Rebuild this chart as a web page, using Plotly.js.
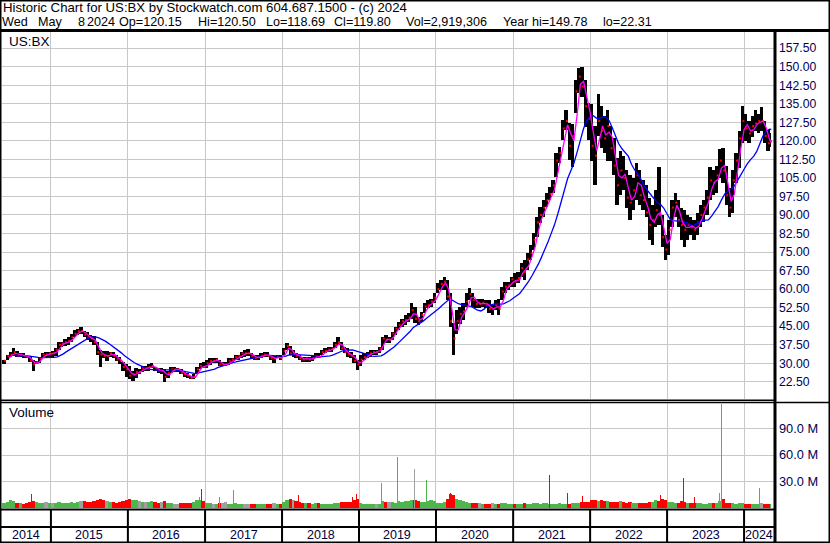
<!DOCTYPE html>
<html><head><meta charset="utf-8">
<script src="https://cdn.plot.ly/plotly-3.0.1.min.js"></script>
<style>html,body{margin:0;padding:0;background:#fff;overflow:hidden}#chart{width:830px;height:543px}</style>
</head><body><div id="chart"></div>
<script>
// ---------- DATA (half-month periods) ----------
const firstPeriod = '2014-05-16';
const lastDay = '2024-05-09';
const highs = [
 31.5,33.5,34.5,36,35,34,34,33.5,33,31.5,31,32.5,34,34.5,34.5,
 35,36,38.5,38.5,40,40.5,42,43.5,44,44.8,43,42.5,41.5,41,38.5,35.5,35,35,34.5,34.5,33.5,32.5,30.5,29.5,
 29,27,28,27.5,29,29,29.5,30.2,28.5,28,28,27.5,27,28.5,28.5,28,27.5,26.5,26,25,25.5,28.5,30,30.5,
 31.3,32,32,32,31.5,30.5,30.5,32,32,33.4,33.4,34.7,35.4,35.6,34,33.4,33.4,34,34.7,34.7,33.4,33,33.4,33.4,
 36,38,37,35.4,34,33.4,32.7,32.7,32.7,33,34,34,35.4,36,36.7,36.7,38.7,40.8,38.7,36.7,36,34.7,33.4,31.3,
 33.4,34,34.7,35.4,35.4,35.4,36.7,40.8,41.4,40.8,42.8,44.8,46.8,48,49.5,50.2,54.5,52.8,48.8,50.9,54.2,55.5,56.2,58.3,
 62.3,63.7,65,63.7,58.3,46.1,51.5,52.9,54.2,58.3,60.3,58.3,56.2,56.2,56.2,55.6,55.6,53.5,55.6,56.2,61,63,63,65,
 66.4,67,70.4,71.8,74.5,77.8,82.6,89.3,93.3,96,98.7,101.4,104,114.9,117.6,128.4,132.5,127.1,127,144.6,149.3,149.78,144.6,135.2,
 135,126,139,134,130,132.5,126,121,113,116,114,108,106,105,111,108,104,102,97,94,100,109.5,90,82,
 88,96,99,96,93,92,90,89,88,91,94,96,100,109.5,108,110,116.5,117,110,101,108,115,124,134,
 131,128,130,132.5,131,133.5,128,124.5,123
];
const lows = [
 29.5,31.5,32.5,33,32.5,32.5,32,32,30.5,27,29.5,30,32,32.5,32,
 32.5,33,35.5,36.5,37,37.5,38.5,40.5,41.5,42,40.5,39.5,38.5,37.5,33.5,28.6,32,31,32.5,32,31,29.5,27,24.5,
 23.5,23,24,25.5,26.5,27,27,28,27,26,25.5,22.31,24,26,26.5,26.5,25.5,24.5,24,23.5,23.5,26,27.5,28,
 28,29.3,30,30,28.7,28.7,28.7,29.3,30,31.3,31.3,32,32.7,33,32,31.3,31.3,32,32.7,32.7,31.3,30,32,31.3,
 33.4,35.4,33.4,32.7,32,31.3,30.7,30.7,30.7,31,32,32,33.4,34,34.7,34.7,36,37.4,35.4,34,32.7,32,30,27.3,
 28.7,31.3,32,32.7,33.4,33.4,34,35.4,38,38,39.4,41.4,43.4,44.8,45.5,46.8,48,46.1,45.5,46.8,50.2,52.2,52.9,54.2,
 58.3,59.6,59.6,55.6,44.8,33.3,42,46,47.5,52.9,55.6,52.9,52.2,52.2,52.9,52.2,50.2,49.5,51.5,49.5,55.6,58.3,59.6,61,
 61,62.3,65,63.7,67.7,71.8,75.8,81.2,86.6,89.3,93.3,96,98.7,105.5,110.9,120.3,124.4,112.2,109.5,131.1,139.2,137.9,125.7,120.3,
 112,102,122,117,115,112,112,106,94,98,100,93,88,92,96,94,92,89,80,78,85,86,77,71.8,
 74,85,89,85,80,77,80,82,80,82,85,87,90,96,98,99,105,103,94,89,91,103,109,119,
 120,119,121.5,124,123,124,119,116,117.5
];
const closes = [
 31,33,33.5,34.5,33,33.5,33,32.5,31,29.5,30.5,32,33.5,33.5,34,
 34,35.5,37.5,38,38.5,39,40.5,42,43,43,41.5,40.5,40,38.5,34.5,33.5,33,33,34,33,31.5,31,28.5,27.5,
 25,25.5,26.5,26.5,28,28,28.5,29,27.5,27,27,24.5,26,27.5,27.5,27.5,26,25.5,25,24,24.5,27.5,29,28.5,
 30,31,31,31.5,29.5,29.5,29.5,31,31.5,32.5,33,34,34,34,33,32,32.5,33,33.5,33,32,32,32.5,32,
 35,37,34,34,33,32,31.5,32,31.5,32,33,32.5,34.5,35,35.5,36,37.5,38.5,36,34.5,33.5,33,31,29.5,
 31.5,32.5,33.5,34,34.5,34.5,36,40,39.5,39.5,42,44,45.5,47,47.5,48.5,51.5,48,47,49.5,53,53.5,55,56.5,
 60,62,63,57,47,40,47,50,51,55,58,55.5,54,54,54.5,53.5,52,52,53.5,52,59,61,61.5,64,
 63,64.5,68.5,67,72,74.5,80,87,90,93,96,98.5,102,112,115,125,128,118,122,140,146,142,134,129,
 118,114,128,124,121,126,117,110,102,108,105,97,95,100,106,98,96,91,86,88,92,90,81,76,
 84,93,95,88,86,84,86,85,84,87,90,93,97,104,103,106,112,108,98,93,104,112,121,128,
 125,123,126,127,128,128,122,119,119.8
];
// typical daily volume level per half-month (millions)
const volumes = [
 6,7,9,8,6,6,5,6,7,8,7,6,6,7,6,
 6,6,7,6,6,6,7,6,7,8,8,7,7,8,9,10,9,8,7,7,6,7,8,9,
 10,9,9,8,7,7,7,8,7,6,7,8,6,6,5,5,6,6,6,6,7,9,9,8,
 6,6,5,5,6,6,7,5,5,6,5,5,5,5,5,4,5,5,5,5,5,6,5,5,
 7,9,10,9,8,7,6,6,6,5,6,6,5,5,5,5,6,6,7,7,7,7,9,10,
 6,5,5,4,4,4,4,8,7,7,7,6,8,7,8,8,9,9,8,7,7,8,9,8,
 6,6,7,10,16,15,10,9,8,7,6,6,6,6,5,5,5,6,5,5,6,6,5,5,
 5,5,5,6,5,5,6,6,5,6,6,5,5,5,6,5,5,5,6,6,6,7,7,7,
 9,9,8,9,8,8,7,7,7,8,7,6,7,6,6,6,6,6,7,7,9,8,10,9,
 7,7,6,6,8,7,6,6,6,6,6,5,5,6,6,6,8,10,6,6,6,5,6,6,
 5,5,5,5,5,6,5,5,5
];
// single-day volume spikes (millions)
const spikeDates = ['2014-10-01','2016-12-07','2016-12-16','2017-03-10','2017-05-16','2018-03-22','2018-12-03','2018-12-18','2019-04-18','2019-07-01','2019-09-20','2019-11-15','2020-03-12','2021-06-21','2021-09-17','2021-11-24','2022-12-02','2023-03-20','2023-05-10','2023-09-06','2023-09-15','2024-03-15'];
const spikeVols  = [15.7,12.9,21.8,12.9,20.6,14.9,12.9,16,28.6,57.3,44.7,31.3,17,37.8,16.8,13.7,14.9,34.4,12.9,16.8,118,22.6];
const spikeDir   = ['down','up','down','up','up','down','down','down','up','up','flat','up','down','down','down','down','down','down','down','up','up','up'];
const priceTicks = [22.5,30,37.5,45,52.5,60,67.5,75,82.5,90,97.5,105,112.5,120,127.5,135,142.5,150,157.5];
const priceTickText = ['22.50','30.00','37.50','45.00','52.50','60.00','67.50','75.00','82.50','90.00','97.50','105.00','112.50','120.00','127.50','135.00','142.50','150.00','157.50'];
const volTicks = [30e6,60e6,90e6];
const volTickText = ['30.0 M','60.0 M','90.0 M'];
const years = [2014,2015,2016,2017,2018,2019,2020,2021,2022,2023,2024];
const headerLine1 = 'Historic Chart for US:BX by Stockwatch.com 604.687.1500 - (c) 2024';
const headerLine2 = ['Wed','May','8','2024','Op=120.15','Hi=120.50','Lo=118.69','Cl=119.80','Vol=2,919,306','Year hi=149.78','lo=22.31'];

// ---------- build ----------
const W=830,H=543;
const px=x=>x/W, py=y=>1-y/H;
const DAY=86400000;
const X_RANGE=['2014-05-14','2024-05-22'];
const ms=s=>Date.parse(s+'T00:00:00Z');
const iso=t=>new Date(t).toISOString().slice(0,19).replace('T',' ');

const starts=[firstPeriod];
for(let y=2014;y<=2024;y++){for(let m=1;m<=12;m++){
  if(y===2014&&m<6)continue; if(y===2024&&m>5)break;
  const mm=String(m).padStart(2,'0');
  starts.push(`${y}-${mm}-01`);
  if(!(y===2024&&m===5)) starts.push(`${y}-${mm}-16`);
}}
const startMs=starts.map(ms);
const endMs=startMs.map((t,i)=>i<startMs.length-1?startMs[i+1]:ms(lastDay));
const widths=startMs.map((t,i)=>endMs[i]-t+0.4*DAY);

function sma(arr,n,minStart){return arr.map((v,i)=>{if(i<minStart)return null;const a=arr.slice(Math.max(0,i-n+1),i+1);return a.reduce((s,x)=>s+x,0)/a.length;});}
const ma20=sma(closes,2,1), ma100=sma(closes,10,3);
const endIso=endMs.map(iso);

const up='#4cb84c', dn='#ff0000', flat='#a0a0a0';
const volColors=closes.map((c,i)=>i===0?up:(c>closes[i-1]?up:(c<closes[i-1]?dn:flat)));
const spikeColors=spikeDir.map(d=>d==='up'?up:(d==='down'?dn:flat));

const traces=[
 {type:'bar',x:starts,base:lows,y:highs.map((h,i)=>h-lows[i]),width:widths,offset:0,
  marker:{color:'#000',line:{width:0}},xaxis:'x',yaxis:'y',hoverinfo:'skip'},
 {type:'scatter',mode:'markers',x:startMs.map((t,i)=>iso(t+(endMs[i]-t)*0.8)),y:closes,
  marker:{symbol:'square',size:2,color:'#ff0000'},xaxis:'x',yaxis:'y',hoverinfo:'skip'},
 {type:'scatter',mode:'lines',x:endIso,y:ma100,line:{color:'#0000ff',width:1.3},xaxis:'x',yaxis:'y',hoverinfo:'skip'},
 {type:'scatter',mode:'lines',x:endIso,y:ma20,line:{color:'#ff00ff',width:1.3},xaxis:'x',yaxis:'y',hoverinfo:'skip'},
 {type:'bar',x:starts,y:volumes.map(v=>v*1e6),width:widths,offset:0,
  marker:{color:volColors,line:{width:0}},xaxis:'x',yaxis:'y2',hoverinfo:'skip'},
 {type:'bar',x:spikeDates,y:spikeVols.map(v=>v*1e6),width:spikeDates.map(()=>5*DAY),offset:-2.5*DAY,
  marker:{color:spikeColors,line:{width:0}},xaxis:'x',yaxis:'y2',hoverinfo:'skip'}
];

const FONT='Liberation Sans, Arial, sans-serif';
const NAVY='#00005a';
const ann=[];
function txt(t,x,y,size,color,anchor){ann.push({text:t,xref:'paper',yref:'paper',x:px(x),y:py(y),xanchor:anchor||'left',yanchor:'middle',showarrow:false,borderpad:0,font:{family:FONT,size:size,color:color||'#000'}});}
txt(headerLine1,2,8,13.2);
const line2X=[1,37,77,86,118,197,265,333,405,502,602];
headerLine2.forEach((t,i)=>txt(t,line2X[i],22,12.6));
txt('US:BX',8,41,13.5,'#000020');
txt('Volume',8,413,13.5,'#000020');

const rs=ms(X_RANGE[0]), re=ms(X_RANGE[1]);
years.forEach(y=>{
  const a=Math.max(rs,ms(`${y}-01-01`)), b=Math.min(re,ms(`${y+1}-01-01`));
  ann.push({text:String(y),xref:'x',yref:'paper',x:iso((a+b)/2),y:py(535),xanchor:'center',yanchor:'middle',showarrow:false,borderpad:0,font:{family:FONT,size:12.5,color:'#00003a'}});
});

const yearStarts=years.slice(1).map(y=>`${y}-01-01`);
const shapes=[];
function ln(x0,y0,x1,y1,w){shapes.push({type:'line',xref:'paper',yref:'paper',x0:px(x0),y0:py(y0),x1:px(x1),y1:py(y1),line:{color:'#000',width:w}});}
ln(0,30.5,830,30.5,3);
ln(775,30,775,543,3);
ln(0,400.3,775,400.3,1.5);
ln(0,402.6,830,402.6,1.5);
ln(0,509.5,775,509.5,2);
ln(0,527,775,527,2);
yearStarts.forEach(d=>shapes.push({type:'line',xref:'x',yref:'paper',x0:d,x1:d,y0:py(509),y1:py(542),line:{color:'#000',width:2}}));
shapes.push({type:'rect',xref:'paper',yref:'paper',x0:0,y0:0,x1:1,y1:1,line:{color:'#000',width:3}});

const layout={
 width:W,height:H,margin:{l:0,r:0,t:0,b:0,pad:0},
 paper_bgcolor:'#fff',plot_bgcolor:'#fff',showlegend:false,
 barmode:'overlay',bargap:0,
 xaxis:{type:'date',range:X_RANGE,domain:[px(2),px(774)],anchor:'y2',tickvals:yearStarts,showticklabels:false,
   ticks:'',showgrid:true,gridcolor:'#c8c8c8',gridwidth:1,zeroline:false,showline:false,fixedrange:true},
 yaxis:{domain:[py(399),py(32)],range:[15.53,164.04],side:'right',anchor:'x',tickvals:priceTicks,ticktext:priceTickText,
   ticks:'',showgrid:true,gridcolor:'#c8c8c8',gridwidth:1,zeroline:false,showline:false,ticklabelstandoff:4,
   tickfont:{family:FONT,size:12.2,color:NAVY},fixedrange:true},
 yaxis2:{domain:[py(508),py(403)],range:[0,118.9e6],side:'right',anchor:'x',tickvals:volTicks,ticktext:volTickText,
   ticks:'',showgrid:true,gridcolor:'#c8c8c8',gridwidth:1,zeroline:false,showline:false,ticklabelstandoff:4,
   tickfont:{family:FONT,size:12.8,color:NAVY},fixedrange:true},
 shapes:shapes,annotations:ann
};
Plotly.newPlot('chart',traces,layout,{staticPlot:true,displayModeBar:false});
</script></body></html>
